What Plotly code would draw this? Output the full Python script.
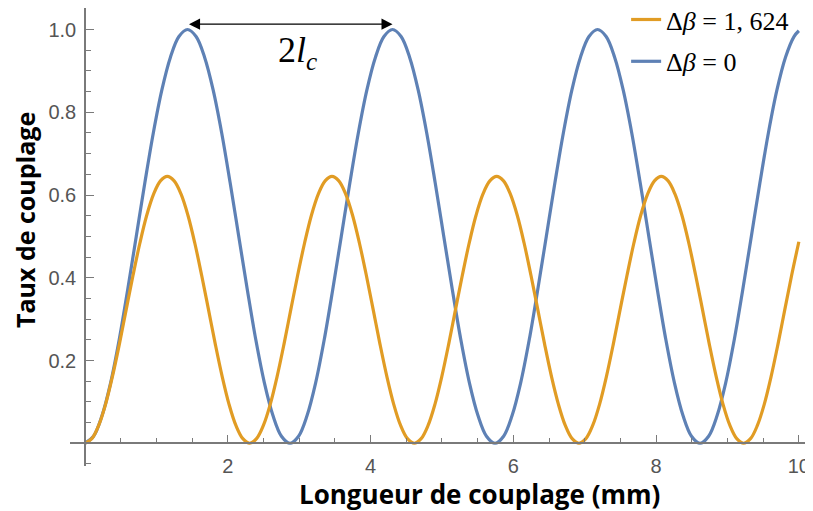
import plotly.graph_objects as go

# Δβ = 0 curve (blue): coupling length z (mm) and coupling ratio
z_blue = [0, 0.120, 0.239, 0.359, 0.479, 0.598, 0.718, 0.838, 0.957, 1.077, 1.197, 1.316,
          1.436, 1.556, 1.675, 1.795, 1.915, 2.034, 2.154, 2.274, 2.393, 2.513, 2.633, 2.752,
          2.872, 2.992, 3.111, 3.231, 3.351, 3.470, 3.590, 3.710, 3.829, 3.949, 4.069, 4.188,
          4.308, 4.428, 4.547, 4.667, 4.787, 4.906, 5.026, 5.146, 5.265, 5.385, 5.505, 5.624,
          5.744, 5.864, 5.983, 6.103, 6.223, 6.342, 6.462, 6.582, 6.701, 6.821, 6.941, 7.060,
          7.180, 7.300, 7.419, 7.539, 7.659, 7.778, 7.898, 8.018, 8.137, 8.257, 8.377, 8.496,
          8.616, 8.736, 8.855, 8.975, 9.095, 9.214, 9.334, 9.454, 9.573, 9.693, 9.813, 9.932,
          10.0]
t_blue = [0, 0.017, 0.067, 0.146, 0.25, 0.371, 0.5, 0.629, 0.75, 0.854, 0.933, 0.983,
          1.0, 0.983, 0.933, 0.854, 0.75, 0.629, 0.5, 0.371, 0.25, 0.146, 0.067, 0.017,
          0, 0.017, 0.067, 0.146, 0.25, 0.371, 0.5, 0.629, 0.75, 0.854, 0.933, 0.983,
          1.0, 0.983, 0.933, 0.854, 0.75, 0.629, 0.5, 0.371, 0.25, 0.146, 0.067, 0.017,
          0, 0.017, 0.067, 0.146, 0.25, 0.371, 0.5, 0.629, 0.75, 0.854, 0.933, 0.983,
          1.0, 0.983, 0.933, 0.854, 0.75, 0.629, 0.5, 0.371, 0.25, 0.146, 0.067, 0.017,
          0, 0.017, 0.067, 0.146, 0.25, 0.371, 0.5, 0.629, 0.75, 0.854, 0.933, 0.983,
          0.997]

# Δβ = 1,624 curve (orange)
z_orange = [0, 0.096, 0.192, 0.288, 0.384, 0.481, 0.577, 0.673, 0.769, 0.865, 0.961, 1.057,
            1.153, 1.249, 1.346, 1.442, 1.538, 1.634, 1.730, 1.826, 1.922, 2.018, 2.114, 2.211,
            2.307, 2.403, 2.499, 2.595, 2.691, 2.787, 2.883, 2.979, 3.076, 3.172, 3.268, 3.364,
            3.460, 3.556, 3.652, 3.748, 3.844, 3.941, 4.037, 4.133, 4.229, 4.325, 4.421, 4.517,
            4.613, 4.709, 4.806, 4.902, 4.998, 5.094, 5.190, 5.286, 5.382, 5.478, 5.574, 5.671,
            5.767, 5.863, 5.959, 6.055, 6.151, 6.247, 6.343, 6.439, 6.535, 6.632, 6.728, 6.824,
            6.920, 7.016, 7.112, 7.208, 7.304, 7.400, 7.496, 7.593, 7.689, 7.785, 7.881, 7.977,
            8.073, 8.169, 8.265, 8.362, 8.458, 8.554, 8.650, 8.746, 8.842, 8.938, 9.034, 9.130,
            9.226, 9.323, 9.419, 9.515, 9.611, 9.707, 9.803, 9.899, 10.0]
t_orange = [0, 0.011, 0.043, 0.094, 0.161, 0.239, 0.323, 0.406, 0.484, 0.551, 0.602, 0.634,
            0.645, 0.634, 0.602, 0.551, 0.484, 0.406, 0.323, 0.239, 0.161, 0.094, 0.043, 0.011,
            0, 0.011, 0.043, 0.094, 0.161, 0.239, 0.323, 0.406, 0.484, 0.551, 0.602, 0.634,
            0.645, 0.634, 0.602, 0.551, 0.484, 0.406, 0.323, 0.239, 0.161, 0.094, 0.043, 0.011,
            0, 0.011, 0.043, 0.094, 0.161, 0.239, 0.323, 0.406, 0.484, 0.551, 0.602, 0.634,
            0.645, 0.634, 0.602, 0.551, 0.484, 0.406, 0.323, 0.239, 0.161, 0.094, 0.043, 0.011,
            0, 0.011, 0.043, 0.094, 0.161, 0.239, 0.323, 0.406, 0.484, 0.551, 0.602, 0.634,
            0.645, 0.634, 0.602, 0.551, 0.484, 0.406, 0.323, 0.239, 0.161, 0.094, 0.043, 0.011,
            0, 0.011, 0.043, 0.094, 0.161, 0.239, 0.323, 0.406, 0.487]

legend_labels = ["Δ<i>β</i> = 1, 624", "Δ<i>β</i> = 0"]

x_tickvals = [2, 4, 6, 8, 10]
x_ticktext = ["2", "4", "6", "8", "10"]
y_tickvals = [0.2, 0.4, 0.6, 0.8, 1.0]
y_ticktext = ["0.2", "0.4", "0.6", "0.8", "1.0"]

# 2 l_c marker between the first two blue maxima
arrow_x = [1.436, 4.308]
arrow_y = 1.013
lc_label = "2<i>l</i><sub><i>c</i></sub>"
lc_label_pos = (2.98, 0.945)

x_range = [-0.21, 10.17]
y_range = [-0.055, 1.052]

BLUE = "#5E81B5"
ORANGE = "#E19C24"
AXIS = "#7a7a7a"
TICKFONT = dict(family="Liberation Sans", size=20, color="#555555")
SERIF = "Liberation Serif"

fig = go.Figure()
fig.add_trace(go.Scatter(x=z_blue, y=t_blue, mode="lines", name=legend_labels[1],
                         legendgroup="b", legendrank=2,
                         line=dict(color=BLUE, width=3.2, shape="spline")))
fig.add_trace(go.Scatter(x=z_orange, y=t_orange, mode="lines", name=legend_labels[0],
                         legendgroup="a", legendrank=1,
                         line=dict(color=ORANGE, width=3.2, shape="spline")))

xpos = (0 - y_range[0]) / (y_range[1] - y_range[0])
ypos = (0 - x_range[0]) / (x_range[1] - x_range[0])

# the page body has an 8px margin, so the figure is 8px smaller and shifted
fig.update_layout(
    width=805, height=503,
    margin=dict(l=62, r=2, t=0, b=45, autoexpand=False),
    plot_bgcolor="white", paper_bgcolor="white",
    showlegend=True,
    legend=dict(x=0.7505, y=1.026, xanchor="left", yanchor="top",
                traceorder="grouped", tracegroupgap=5,
                bgcolor="rgba(0,0,0,0)",
                font=dict(family=SERIF, size=26, color="black")),
    xaxis=dict(range=x_range, showgrid=False, zeroline=False, showline=True,
               linecolor=AXIS, linewidth=1.5, anchor="free", position=xpos,
               automargin=False, ticklabeloverflow="allow",
               ticks="inside", ticklen=7, tickwidth=1.3, tickcolor=AXIS,
               tickmode="array", tickvals=x_tickvals, ticktext=x_ticktext,
               tickfont=TICKFONT, ticklabelstandoff=5,
               minor=dict(tickmode="linear", tick0=0, dtick=0.5, ticks="inside",
                          ticklen=4, tickwidth=1.2, tickcolor=AXIS)),
    yaxis=dict(range=y_range, showgrid=False, zeroline=False, showline=True,
               linecolor=AXIS, linewidth=1.5, anchor="free", position=ypos,
               automargin=False, ticklabeloverflow="allow",
               ticks="inside", ticklen=8, tickwidth=1.3, tickcolor=AXIS,
               tickmode="array", tickvals=y_tickvals, ticktext=y_ticktext,
               tickfont=TICKFONT, ticklabelstandoff=4,
               minor=dict(tickmode="linear", tick0=0, dtick=0.05, ticks="inside",
                          ticklen=5, tickwidth=1.2, tickcolor=AXIS)),
)

fig.add_annotation(x=arrow_x[1], y=arrow_y, ax=arrow_x[0], ay=arrow_y,
                   xref="x", yref="y", axref="x", ayref="y", text="",
                   showarrow=True, arrowside="end+start", arrowhead=2, startarrowhead=2,
                   arrowsize=1.7, startarrowsize=1.7, arrowwidth=1.3, arrowcolor="black",
                   standoff=0, startstandoff=0)
fig.add_annotation(x=lc_label_pos[0], y=lc_label_pos[1], xref="x", yref="y",
                   text=lc_label, showarrow=False,
                   font=dict(family=SERIF, size=36, color="black"))

fig.add_annotation(x=0.552, y=-0.061, xref="paper", yref="paper",
                   xanchor="center", yanchor="middle",
                   text="Longueur de couplage (mm)", showarrow=False,
                   font=dict(family="Open Sans", size=26, color="black", weight="bold"))
fig.add_annotation(x=-0.0607, y=0.537, xref="paper", yref="paper", textangle=-90,
                   xanchor="center", yanchor="middle",
                   text="Taux de couplage", showarrow=False,
                   font=dict(family="Open Sans", size=25, color="black", weight="bold"))

fig.write_html("out.html")
